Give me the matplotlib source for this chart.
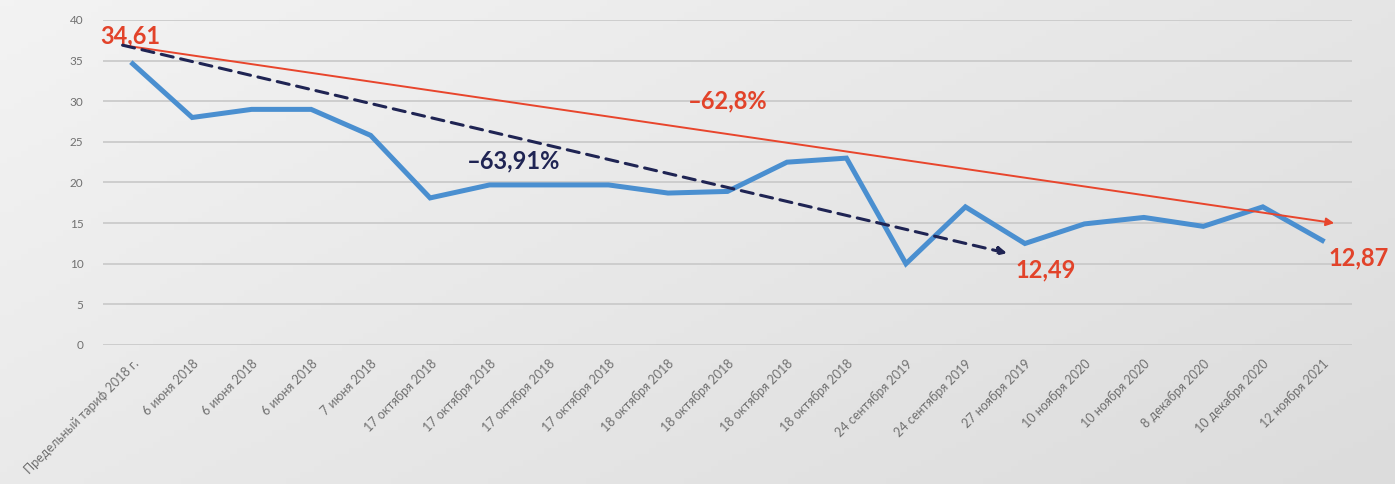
import numpy as np
import matplotlib
matplotlib.use("Agg")
import matplotlib.pyplot as plt

plt.rcParams['font.family'] = ['Lato', 'DejaVu Sans']

# categories (dates of tariff decisions)
dates = ["Предельный тариф 2018 г.", "6 июня 2018", "6 июня 2018", "6 июня 2018",
         "7 июня 2018", "17 октября 2018", "17 октября 2018", "17 октября 2018",
         "17 октября 2018", "18 октября 2018", "18 октября 2018", "18 октября 2018",
         "18 октября 2018", "24 сентября 2019", "24 сентября 2019", "27 ноября 2019",
         "10 ноября 2020", "10 ноября 2020", "8 декабря 2020", "10 декабря 2020",
         "12 ноября 2021"]
# tariff values
tariff = [34.61, 28.0, 29.0, 29.0, 25.8, 18.1, 19.7, 19.7, 19.7, 18.7, 18.9,
          22.5, 23.0, 10.0, 17.0, 12.49, 14.9, 15.7, 14.6, 17.0, 12.87]

# trend arrows: (x start, y start) -> (x end, y end) in data units
red_trend_x = [-0.17, 20.2]
red_trend_y = [36.9, 15.0]
navy_trend_x = [-0.17, 14.7]
navy_trend_y = [36.9, 11.3]

fig = plt.figure(figsize=(13.95, 4.84), dpi=100)

# light gray gradient background
bg = fig.add_axes([0, 0, 1, 1], zorder=-10)
gx, gy = np.meshgrid(np.linspace(0, 1, 200), np.linspace(0, 1, 80))
grad = 0.6 * gx + 0.4 * gy
bg.imshow(grad, cmap=matplotlib.colors.LinearSegmentedColormap.from_list(
    "bg", ["#f3f3f3", "#dcdcdc"]), aspect="auto", extent=[0, 1, 0, 1])
bg.axis("off")

ax = fig.add_axes([0.0738, 0.2872, 0.8954, 0.6715])
ax.set_facecolor("none")
x = np.arange(len(dates))

ax.plot(x, tariff, color="#4a8fd0", lw=3.6, solid_joinstyle="miter", zorder=3)

ax.annotate("", xy=(red_trend_x[1], red_trend_y[1]), xytext=(red_trend_x[0], red_trend_y[0]),
            arrowprops=dict(arrowstyle="-|>", color="#e8452c", lw=1.4,
                            mutation_scale=12, shrinkA=0, shrinkB=0), zorder=4)
ax.annotate("", xy=(navy_trend_x[1], navy_trend_y[1]), xytext=(navy_trend_x[0], navy_trend_y[0]),
            arrowprops=dict(arrowstyle="-|>", color="#1f2453", lw=2.2, linestyle=(0, (4, 2.5)),
                            mutation_scale=12, shrinkA=0, shrinkB=0), zorder=4)

red = "#e2432a"
big = 17
ax.text(-0.55, 38.0, "34,61", color=red, fontsize=big, fontweight="bold", ha="left", va="center")
ax.text(10.0, 30.0, "\u201362,8%", color=red, fontsize=big, fontweight="bold", ha="center", va="center")
ax.text(6.4, 22.7, "\u201363,91%", color="#1f2453", fontsize=big, fontweight="bold", ha="center", va="center")
ax.text(14.85, 9.2, "12,49", color=red, fontsize=big, fontweight="bold", ha="left", va="center")
ax.text(20.1, 10.7, "12,87", color=red, fontsize=big, fontweight="bold", ha="left", va="center")

ax.set_xlim(-0.5, len(dates) - 0.5)
ax.set_ylim(0, 40)
ax.set_yticks(range(0, 41, 5))
ax.set_xticks(x)
ax.set_xticklabels(dates, rotation=45, ha="right", rotation_mode="anchor",
                   fontsize=9, color="#707070")
ax.tick_params(axis="y", labelsize=8.5, labelcolor="#707070", length=0, pad=14)
ax.tick_params(axis="x", length=0, pad=9)
ax.grid(axis="y", color="#c8c8c8", lw=1.2)
ax.set_axisbelow(True)
for s in ax.spines.values():
    s.set_visible(False)

plt.savefig("out.png", dpi=100)
